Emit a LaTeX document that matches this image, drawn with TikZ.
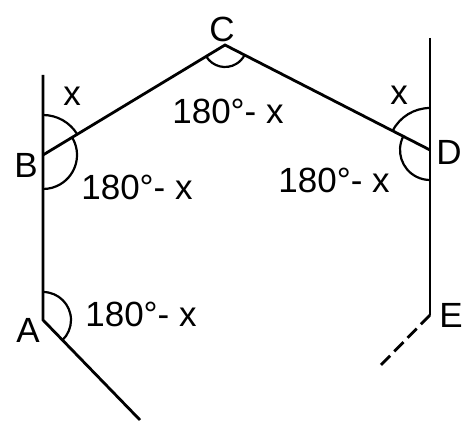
\documentclass[tikz,border=0pt]{standalone}
\usepackage{fontspec}
\setmainfont{Liberation Sans}
\usetikzlibrary{calc}

\begin{document}
\begin{tikzpicture}[x=1pt,y=1pt,font=\fontsize{35}{36}\selectfont,
  side/.style={line width=2.8pt},
  ang/.style={line width=2.2pt},
  lbl/.style={inner sep=0pt}]
\useasboundingbox (0,0) rectangle (462,420);
% vertices
\coordinate (A) at (43,100);
\coordinate (B) at (43,265);
\coordinate (C) at (225,375);
\coordinate (D) at (430,270);
\coordinate (E) at (430,105);
\coordinate (Btop) at (43,345);
\coordinate (Dtop) at (430,382);
\coordinate (Aend) at (140,0);
\coordinate (Eend) at (378,52);
% sides
\draw[side] (Btop) -- (B) -- (A) -- (Aend);
\draw[side] (B) -- (C) -- (D);
\draw[side] (Dtop) -- (D) -- (E);
\draw[side,dash pattern=on 13pt off 6pt] (E) -- (Eend);
% angle marks
\draw[ang] (B) ++(90:40) arc[start angle=90,end angle=31.1,radius=40];
\draw[ang] (B) ++(31.1:34) arc[start angle=31.1,end angle=-90,radius=34];
\draw[ang] (C) ++(211.1:22) arc[start angle=211.1,end angle=332.9,radius=22];
\draw[ang] (D) ++(90:42) arc[start angle=90,end angle=152.9,radius=42];
\draw[ang] (D) ++(152.9:30) arc[start angle=152.9,end angle=270,radius=30];
\draw[ang] (A) ++(90:28) arc[start angle=90,end angle=-45.9,radius=28];
% labels
\node[lbl] (lblA) at (28,90) {A};
\node[lbl] (lblB) at (26,255) {B};
\node[lbl] (lblC) at (222,391) {C};
\node[lbl] (lblD) at (449,268) {D};
\node[lbl] (lblE) at (451,105) {E};
\node[lbl] (angB1) at (72,324) {x};
\node[lbl] (angB2) at (137,233) {180°- x};
\node[lbl] (angC) at (228,309) {180°- x};
\node[lbl] (angD1) at (399,325) {x};
\node[lbl] (angD2) at (334,240) {180°- x};
\node[lbl] (angA) at (141,106) {180°- x};
\end{tikzpicture}
\end{document}
